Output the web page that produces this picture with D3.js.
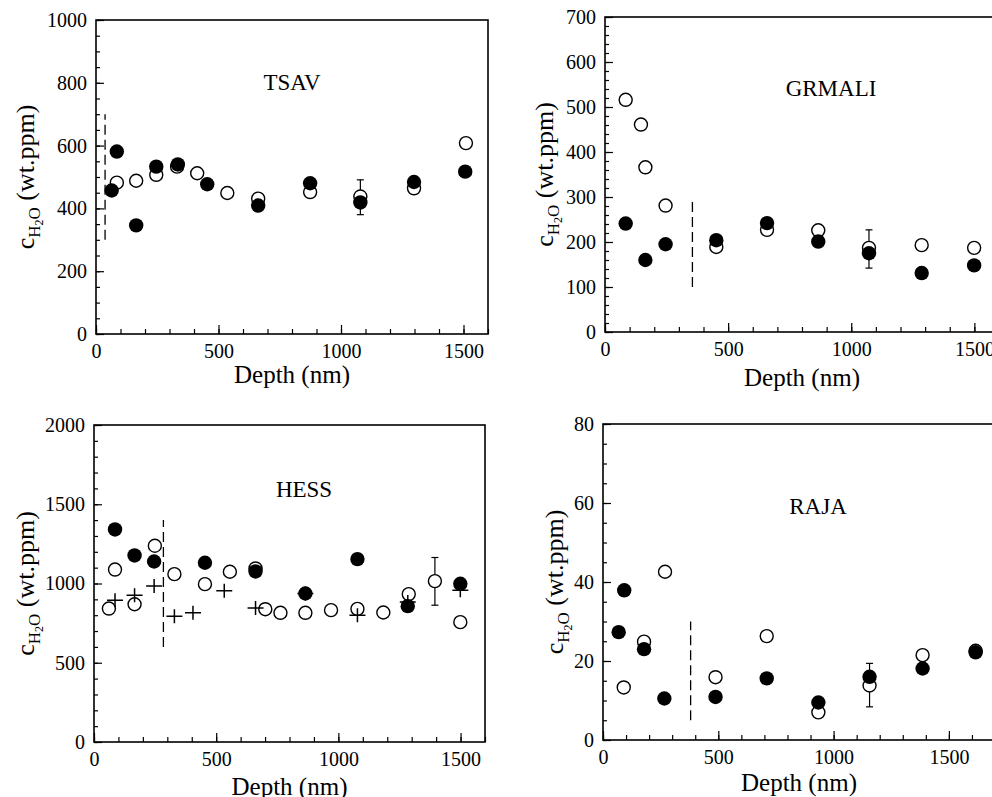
<!DOCTYPE html>
<html>
<head>
<meta charset="utf-8">
<script src="https://cdn.jsdelivr.net/npm/d3@7"></script>
<style>
  body { margin: 0; background: #fff; }
  svg { display: block; }
</style>
</head>
<body>
<svg id="chart" width="992" height="797"></svg>
<script>
// Data: [depth (nm), c_H2O (wt.ppm)]

// TSAV
const tsavFilled = [[64,457],[85,581],[164,346],[246,533],[334,540],[454,477],[662,409],[874,480],[1079,419],[1298,484],[1507,517]];
const tsavOpen = [[85,482],[164,488],[246,507],[331,533],[413,512],[536,449],[662,431],[874,452],[1079,438],[1298,464],[1510,608]];
const tsavErr = [[1079,380,491]];
const tsavDash = [37,300,700];

// GRMALI
const grmaliFilled = [[84,241],[164,160],[246,195],[452,204],[658,242],[866,201],[1072,175],[1286,131],[1499,148]];
const grmaliOpen = [[84,516],[146,461],[164,366],[246,281],[452,189],[658,227],[866,226],[1072,187],[1286,193],[1499,187]];
const grmaliErr = [[1072,142,227]];
const grmaliDash = [355,100,300];

// HESS
const hessFilled = [[86,1341],[166,1177],[246,1139],[454,1131],[661,1076],[865,937],[1078,1154],[1284,857],[1499,998]];
const hessOpen = [[61,842],[86,1088],[166,869],[249,1238],[329,1059],[454,996],[556,1074],[661,1095],[701,838],[763,815],[865,815],[970,832],[1078,840],[1184,817],[1288,933],[1395,1015],[1499,756]];
const hessCross = [[86,895],[166,926],[246,985],[329,794],[405,815],[533,954],[661,846],[865,937],[1078,800],[1284,884],[1499,958]];
const hessErr = [[1395,863,1164]];
const hessDash = [284,600,1400];

// RAJA
const rajaFilled = [[68,27.3],[92,37.9],[178,23.0],[266,10.5],[488,10.9],[710,15.6],[934,9.5],[1156,16.0],[1386,18.1],[1616,22.2]];
const rajaOpen = [[90,13.3],[178,24.9],[269,42.6],[488,15.9],[710,26.3],[934,7.0],[1156,13.8],[1386,21.5],[1616,22.6]];
const rajaErr = [[1156,8.4,19.4]];
const rajaDash = [380,5,30];

const FONT = "'Liberation Serif', 'Times New Roman', Times, 'DejaVu Serif', serif";

const panels = [
  { name: "TSAV", left: 96, right: 488, top: 20, bottom: 334, xMax: 1600, yMax: 1000, yMinor: 50, yMajor: 200,
    tx: 292, ty: 90, xlab: 383, ylabX: 34,
    filled: tsavFilled, open: tsavOpen, cross: [], err: tsavErr, dash: tsavDash },
  { name: "GRMALI", left: 605, right: 999, top: 17, bottom: 332, xMax: 1600, yMax: 700, yMinor: 20, yMajor: 100,
    tx: 831, ty: 96, xlab: 386, ylabX: 553,
    filled: grmaliFilled, open: grmaliOpen, cross: [], err: grmaliErr, dash: grmaliDash },
  { name: "HESS", left: 94, right: 485, top: 425, bottom: 742, xMax: 1600, yMax: 2000, yMinor: 100, yMajor: 500,
    tx: 304, ty: 497, xlab: 795, ylabX: 34,
    filled: hessFilled, open: hessOpen, cross: hessCross, err: hessErr, dash: hessDash },
  { name: "RAJA", left: 603, right: 995, top: 424, bottom: 740, xMax: 1700, yMax: 80, yMinor: 5, yMajor: 20,
    tx: 818, ty: 514, xlab: 791, ylabX: 563,
    filled: rajaFilled, open: rajaOpen, cross: [], err: rajaErr, dash: rajaDash }
];

const svg = d3.select("#chart").attr("font-family", FONT);

panels.forEach(p => {
  const x = d3.scaleLinear().domain([0, p.xMax]).range([p.left, p.right]);
  const y = d3.scaleLinear().domain([0, p.yMax]).range([p.bottom, p.top]);
  const g = svg.append("g");

  // minor ticks (inward)
  g.append("g")
    .attr("transform", `translate(0,${p.bottom})`)
    .call(d3.axisBottom(x).tickValues(d3.range(0, p.xMax + 1, 100)).tickSize(-5).tickFormat(""))
    .call(a => a.select(".domain").remove());
  g.append("g")
    .attr("transform", `translate(${p.left},0)`)
    .call(d3.axisLeft(y).tickValues(d3.range(0, p.yMax + 0.001, p.yMinor)).tickSize(-4).tickFormat(""))
    .call(a => a.select(".domain").remove());

  // major ticks with labels
  const xAxis = g.append("g")
    .attr("transform", `translate(0,${p.bottom})`)
    .call(d3.axisBottom(x).tickValues(d3.range(0, p.xMax + 1, 500)).tickSize(-9).tickPadding(10).tickFormat(d3.format("d")));
  const yAxis = g.append("g")
    .attr("transform", `translate(${p.left},0)`)
    .call(d3.axisLeft(y).tickValues(d3.range(0, p.yMax + 0.001, p.yMajor)).tickSize(-8).tickPadding(9).tickFormat(d3.format("d")));
  [xAxis, yAxis].forEach(a => {
    a.select(".domain").remove();
    a.attr("font-family", FONT).attr("font-size", 20);
    a.selectAll("text").attr("fill", "#000");
  });
  g.selectAll(".tick line").attr("stroke", "#000").attr("stroke-width", 1.2);

  // frame
  g.append("rect")
    .attr("x", p.left).attr("y", p.top)
    .attr("width", p.right - p.left).attr("height", p.bottom - p.top)
    .attr("fill", "none").attr("stroke", "#000").attr("stroke-width", 1.6);

  // dashed boundary line
  g.append("line")
    .attr("x1", x(p.dash[0])).attr("x2", x(p.dash[0]))
    .attr("y1", y(p.dash[1])).attr("y2", y(p.dash[2]))
    .attr("stroke", "#000").attr("stroke-width", 1.3).attr("stroke-dasharray", "10,5");

  // error bars
  p.err.forEach(e => {
    const eg = g.append("g").attr("stroke", "#000").attr("stroke-width", 1.2);
    eg.append("line").attr("x1", x(e[0])).attr("x2", x(e[0])).attr("y1", y(e[1])).attr("y2", y(e[2]));
    eg.append("line").attr("x1", x(e[0]) - 3.5).attr("x2", x(e[0]) + 3.5).attr("y1", y(e[1])).attr("y2", y(e[1]));
    eg.append("line").attr("x1", x(e[0]) - 3.5).attr("x2", x(e[0]) + 3.5).attr("y1", y(e[2])).attr("y2", y(e[2]));
  });

  // open circles
  g.append("g").selectAll("circle").data(p.open).join("circle")
    .attr("cx", d => x(d[0])).attr("cy", d => y(d[1])).attr("r", 6.5)
    .attr("fill", "#fff").attr("stroke", "#000").attr("stroke-width", 1.4);

  // filled circles
  g.append("g").selectAll("circle").data(p.filled).join("circle")
    .attr("cx", d => x(d[0])).attr("cy", d => y(d[1])).attr("r", 7.2)
    .attr("fill", "#000");

  // crosses
  g.append("g").selectAll("path").data(p.cross).join("path")
    .attr("transform", d => `translate(${x(d[0])},${y(d[1])})`)
    .attr("d", "M-8,0H8M0,-7V7")
    .attr("stroke", "#000").attr("stroke-width", 1.5).attr("fill", "none");

  // panel title
  g.append("text").attr("x", p.tx).attr("y", p.ty)
    .attr("text-anchor", "middle").attr("font-size", 23).text(p.name);

  // x label
  g.append("text").attr("x", (p.left + p.right) / 2).attr("y", p.xlab)
    .attr("text-anchor", "middle").attr("font-size", 25).text("Depth (nm)");

  // y label: c_{H2O} (wt.ppm)
  const yl = g.append("text")
    .attr("transform", `translate(${p.ylabX},${(p.top + p.bottom) / 2}) rotate(-90)`)
    .attr("text-anchor", "middle").attr("font-size", 26);
  yl.append("tspan").text("c");
  yl.append("tspan").attr("font-size", 17).attr("dy", 6).text("H");
  yl.append("tspan").attr("font-size", 12).attr("dy", 3).text("2");
  yl.append("tspan").attr("font-size", 17).attr("dy", -3).text("O");
  yl.append("tspan").attr("dy", -6).text(" (wt.ppm)");
});
</script>
</body>
</html>
